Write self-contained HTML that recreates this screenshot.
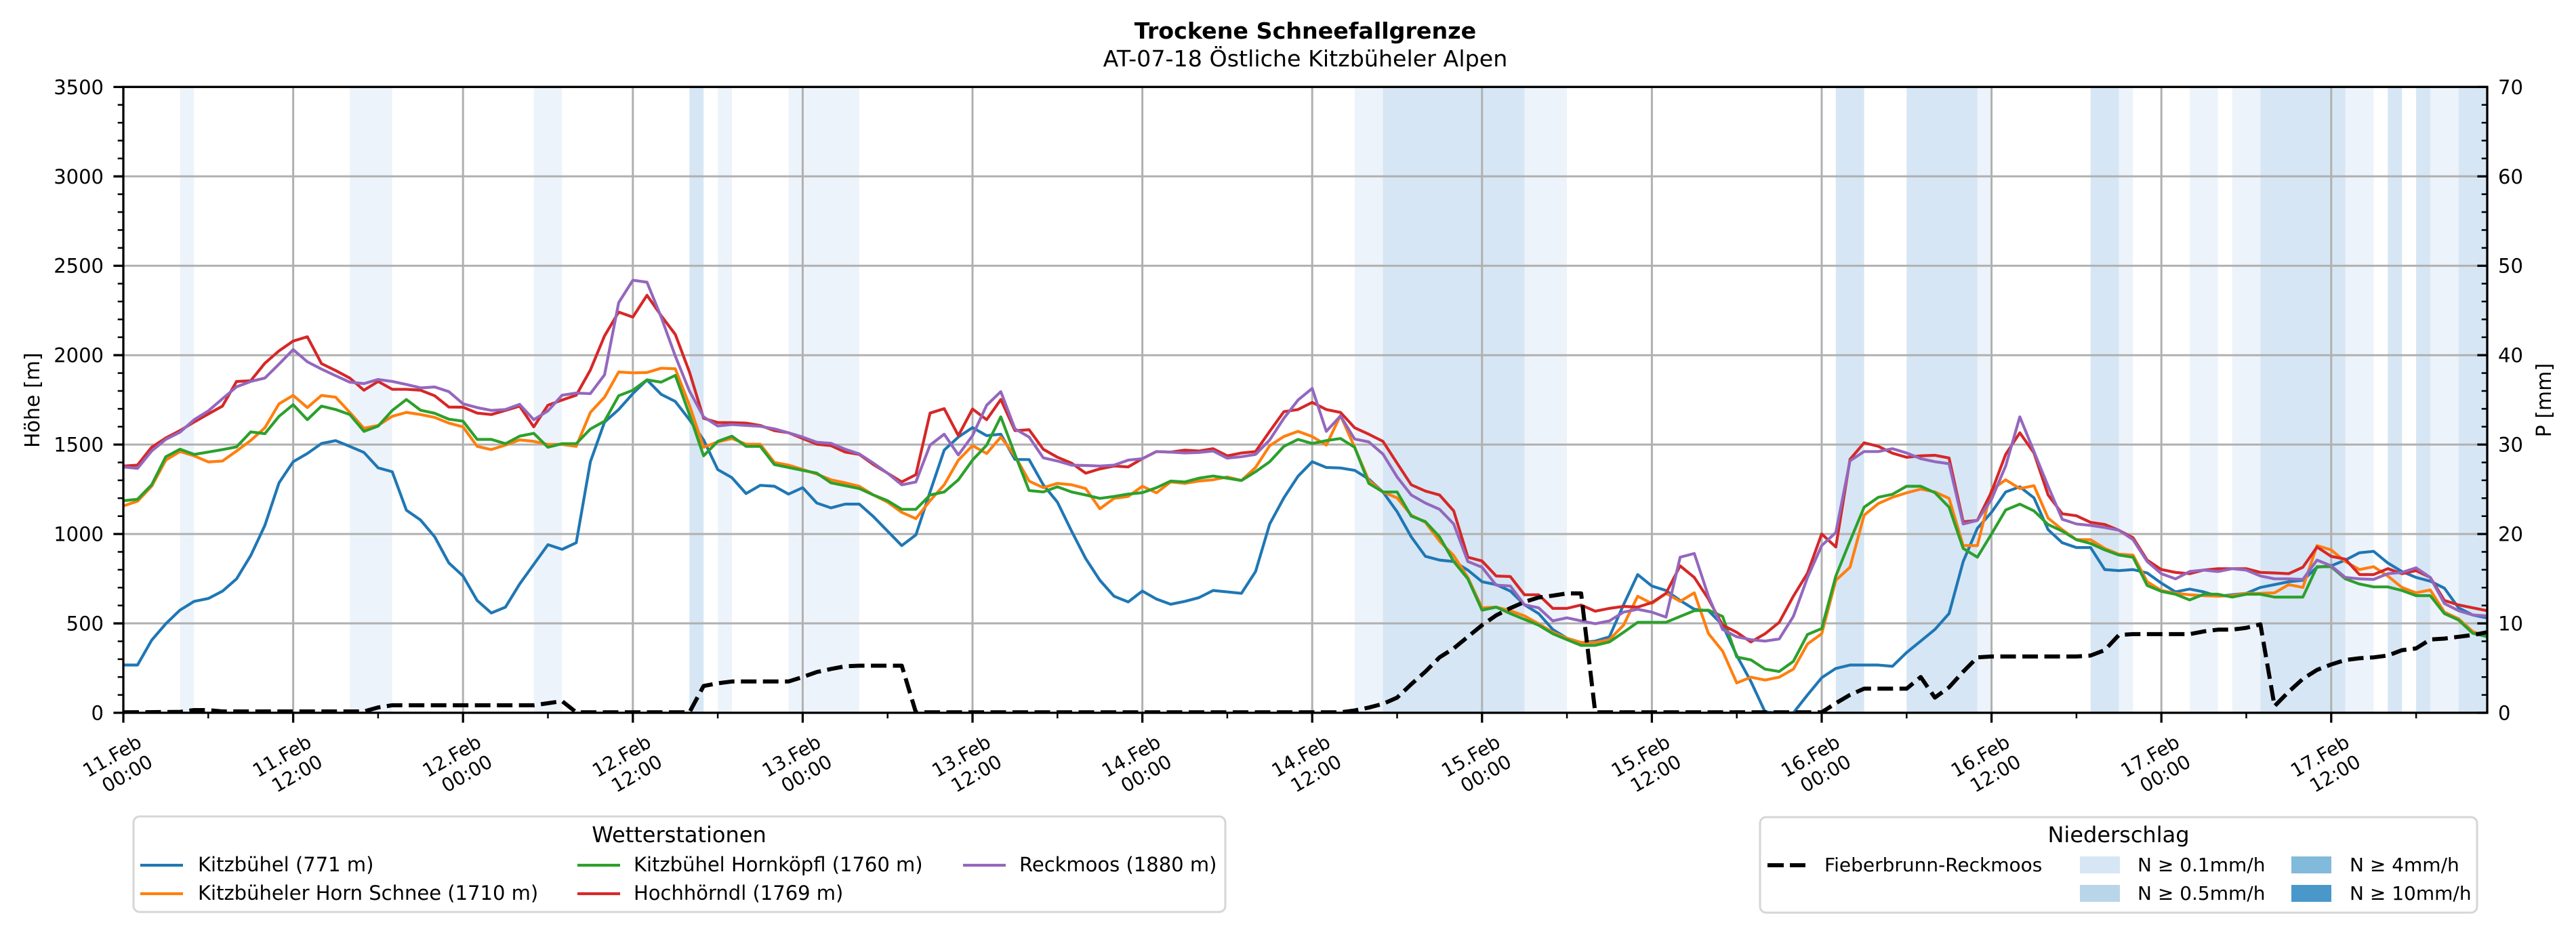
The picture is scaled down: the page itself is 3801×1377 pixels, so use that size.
<!DOCTYPE html>
<html><head><meta charset="utf-8"><style>
html,body{margin:0;padding:0;background:#fff;}
svg{display:block;font-family:"DejaVu Sans","Liberation Sans",sans-serif;}
</style></head><body>
<svg width="3801" height="1377" viewBox="0 0 3801 1377" xmlns="http://www.w3.org/2000/svg">
<defs><clipPath id="ax"><rect x="182" y="128.3" width="3488" height="923.7"/></clipPath></defs>
<rect width="3801" height="1377" fill="#fff"/>
<text x="1926" y="57" font-size="33.3" font-weight="bold" text-anchor="middle">Trockene Schneefallgrenze</text>
<text x="1926" y="98" font-size="33.3" text-anchor="middle">AT-07-18 Östliche Kitzbüheler Alpen</text>
<g transform="matrix(20.883 0 0 1 182 0)">
<g fill="#edf3fa">
<rect x="4" y="128.3" width="1" height="923.7"/><rect x="16" y="128.3" width="3" height="923.7"/><rect x="29" y="128.3" width="2" height="923.7"/><rect x="42" y="128.3" width="1" height="923.7"/><rect x="47" y="128.3" width="5" height="923.7"/><rect x="87" y="128.3" width="2" height="923.7"/><rect x="99" y="128.3" width="3" height="923.7"/><rect x="131" y="128.3" width="1" height="923.7"/><rect x="141" y="128.3" width="1" height="923.7"/><rect x="146" y="128.3" width="2" height="923.7"/><rect x="149" y="128.3" width="2" height="923.7"/><rect x="157" y="128.3" width="2" height="923.7"/><rect x="163" y="128.3" width="2" height="923.7"/>
</g>
<g fill="#d6e6f4">
<rect x="40" y="128.3" width="1" height="923.7"/><rect x="89" y="128.3" width="10" height="923.7"/><rect x="121" y="128.3" width="2" height="923.7"/><rect x="126" y="128.3" width="5" height="923.7"/><rect x="139" y="128.3" width="2" height="923.7"/><rect x="151" y="128.3" width="6" height="923.7"/><rect x="160" y="128.3" width="1" height="923.7"/><rect x="162" y="128.3" width="1" height="923.7"/><rect x="165" y="128.3" width="2" height="923.7"/>
</g>
</g>
<g stroke="#b0b0b0" stroke-width="3" fill="none">
<path d="M182 920.05H3670M182 788.1H3670M182 656.15H3670M182 524.2H3670M182 392.25H3670M182 260.3H3670"/>
<path d="M432.6 128.3V1052M683.2 128.3V1052M933.8 128.3V1052M1184.4 128.3V1052M1435 128.3V1052M1685.6 128.3V1052M1936.2 128.3V1052M2186.8 128.3V1052M2437.4 128.3V1052M2688 128.3V1052M2938.6 128.3V1052M3189.2 128.3V1052M3439.8 128.3V1052"/>
</g>
<g clip-path="url(#ax)">
<g transform="matrix(20.883 0 0 -0.26391 182 1052)" fill="none" stroke-width="4.2" stroke-linejoin="round" stroke-linecap="square">
<polyline vector-effect="non-scaling-stroke" stroke="#1f77b4" points="0,267 1,267 2,406 3,498 4,574 5,623 6,639 7,680 8,749 9,879 10,1048 11,1286 12,1404 13,1450 14,1506 15,1522 16,1490 17,1456 18,1370 19,1348 20,1133 21,1078 22,984 23,838 24,765 25,628 26,558 27,591 28,720 29,830 30,940 31,914 32,951 33,1404 34,1626 35,1696 36,1785 37,1862 38,1781 39,1741 40,1639 41,1526 42,1360 43,1315 44,1226 45,1272 46,1267 47,1223 48,1259 49,1173 50,1146 51,1167 52,1167 53,1097 54,1016 55,935 56,995 57,1235 58,1469 59,1542 60,1595 61,1550 62,1558 63,1417 64,1416 65,1275 66,1178 67,1016 68,862 69,741 70,652 71,620 72,681 73,636 74,607 75,623 76,644 77,684 78,676 79,668 80,790 81,1056 82,1202 83,1323 84,1404 85,1372 86,1369 87,1356 88,1307 89,1235 90,1125 91,984 92,875 93,854 94,846 95,798 96,733 97,717 98,681 99,604 100,555 101,466 102,417 103,393 104,401 105,425 106,604 107,773 108,709 109,684 110,628 111,579 112,571 113,490 114,320 115,175 116,5 117,0 118,0 119,100 120,196 121,248 122,267 123,267 124,267 125,260 126,337 127,401 128,466 129,555 130,846 131,1032 132,1121 133,1235 134,1264 135,1202 136,1024 137,951 138,924 139,924 140,801 141,795 142,801 143,782 144,725 145,676 146,692 147,676 148,652 149,660 150,668 151,701 152,717 153,733 154,741 155,814 156,822 157,854 158,895 159,903 160,838 161,790 162,757 163,736 164,697 165,587 166,547 167,531"/>
<polyline vector-effect="non-scaling-stroke" stroke="#ff7f0e" points="0,1157 1,1183 2,1267 3,1413 4,1461 5,1437 6,1403 7,1408 8,1464 9,1523 10,1594 11,1728 12,1775 13,1707 14,1775 15,1765 16,1680 17,1591 18,1607 19,1658 20,1680 21,1668 22,1652 23,1620 24,1599 25,1490 26,1472 27,1497 28,1526 29,1518 30,1501 31,1501 32,1490 33,1680 34,1765 35,1906 36,1901 37,1903 38,1927 39,1924 40,1720 41,1485 42,1515 43,1534 44,1502 45,1502 46,1400 47,1385 48,1361 49,1335 50,1303 51,1286 52,1267 53,1218 54,1178 55,1121 56,1086 57,1186 58,1275 59,1413 60,1494 61,1450 62,1542 63,1437 64,1296 65,1259 66,1283 67,1275 68,1254 69,1141 70,1199 71,1210 72,1267 73,1230 74,1291 75,1283 76,1296 77,1303 78,1319 79,1299 80,1372 81,1494 82,1545 83,1574 84,1545 85,1497 86,1663 87,1485 88,1299 89,1235 90,1202 91,1105 92,1065 93,960 94,879 95,757 96,587 97,591 98,571 99,542 100,498 101,450 102,417 103,393 104,393 105,409 106,490 107,652 108,611 109,668 110,623 111,671 112,443 113,345 114,167 115,199 116,183 117,199 118,244 119,385 120,442 121,741 122,814 123,1105 124,1170 125,1205 126,1230 127,1251 128,1235 129,1199 130,935 131,935 132,1246 133,1303 134,1254 135,1270 136,1089 137,1024 138,968 139,968 140,919 141,887 142,882 143,733 144,684 145,668 146,660 147,655 148,652 149,655 150,668 151,668 152,671 153,717 154,701 155,935 156,911 157,846 158,801 159,817 160,765 161,701 162,671 163,687 164,563 165,526 166,455 167,426"/>
<polyline vector-effect="non-scaling-stroke" stroke="#2ca02c" points="0,1186 1,1194 2,1275 3,1432 4,1474 5,1445 6,1458 7,1472 8,1487 9,1571 10,1561 11,1658 12,1723 13,1639 14,1715 15,1696 16,1668 17,1574 18,1603 19,1691 20,1752 21,1692 22,1675 23,1642 24,1631 25,1529 26,1529 27,1505 28,1547 29,1563 30,1485 31,1505 32,1505 33,1587 34,1631 35,1773 36,1804 37,1862 38,1849 39,1887 40,1668 41,1437 42,1518 43,1547 44,1490 45,1490 46,1388 47,1372 48,1356 49,1340 50,1286 51,1270 52,1254 53,1218 54,1186 55,1138 56,1138 57,1218 58,1235 59,1303 60,1413 61,1497 62,1655 63,1445 64,1243 65,1235 66,1264 67,1235 68,1218 69,1199 70,1210 71,1223 72,1231 73,1259 74,1296 75,1291 76,1312 77,1324 78,1312 79,1299 80,1348 81,1404 82,1490 83,1529 84,1506 85,1522 86,1534 87,1485 88,1283 89,1235 90,1235 91,1100 92,1069 93,984 94,846 95,749 96,574 97,591 98,555 99,522 100,490 101,442 102,409 103,377 104,377 105,396 106,450 107,506 108,506 109,506 110,539 111,571 112,574 113,539 114,312 115,296 116,244 117,231 118,288 119,438 120,471 121,765 122,960 123,1150 124,1205 125,1222 126,1267 127,1267 128,1231 129,1150 130,919 131,870 132,1000 133,1134 134,1167 135,1129 136,1053 137,1016 138,968 139,947 140,911 141,882 142,870 143,712 144,679 145,663 146,631 147,663 148,663 149,647 150,663 151,663 152,647 153,647 154,647 155,817 156,817 157,749 158,720 159,704 160,704 161,684 162,655 163,655 164,555 165,519 166,445 167,426"/>
<polyline vector-effect="non-scaling-stroke" stroke="#d62728" points="0,1380 1,1385 2,1485 3,1537 4,1578 5,1626 6,1671 7,1715 8,1853 9,1857 10,1955 11,2024 12,2079 13,2103 14,1953 15,1914 16,1872 17,1804 18,1853 19,1809 20,1809 21,1804 22,1773 23,1710 24,1709 25,1676 26,1668 27,1691 28,1715 29,1599 30,1720 31,1749 32,1776 33,1917 34,2108 35,2241 36,2213 37,2335 38,2221 39,2116 40,1906 41,1647 42,1623 43,1623 44,1620 45,1607 46,1578 47,1566 48,1534 49,1502 50,1494 51,1458 52,1445 53,1388 54,1340 55,1291 56,1332 57,1676 58,1701 59,1550 60,1699 61,1639 62,1752 63,1578 64,1583 65,1474 66,1429 67,1396 68,1340 69,1364 70,1380 71,1375 72,1421 73,1461 74,1458 75,1469 76,1464 77,1477 78,1437 79,1453 80,1461 81,1574 82,1684 83,1696 84,1736 85,1696 86,1680 87,1594 88,1558 89,1518 90,1396 91,1275 92,1240 93,1218 94,1129 95,870 96,849 97,765 98,762 99,660 100,660 101,584 102,584 103,603 104,568 105,584 106,595 107,591 108,616 109,668 110,822 111,757 112,636 113,490 114,450 115,396 116,442 117,506 118,652 119,781 120,1000 121,927 122,1417 123,1510 124,1490 125,1452 126,1429 127,1437 128,1440 129,1425 130,1068 131,1076 132,1235 133,1445 134,1566 135,1453 136,1218 137,1113 138,1102 139,1065 140,1053 141,1021 142,979 143,854 144,801 145,785 146,778 147,798 148,806 149,806 150,806 151,785 152,782 153,778 154,814 155,927 156,875 157,859 158,773 159,773 160,806 161,778 162,795 163,757 164,628 165,603 166,587 167,571"/>
<polyline vector-effect="non-scaling-stroke" stroke="#9467bd" points="0,1375 1,1367 2,1464 3,1529 4,1569 5,1639 6,1688 7,1756 8,1823 9,1853 10,1872 11,1950 12,2031 13,1963 14,1922 15,1885 16,1849 17,1841 18,1864 19,1853 20,1836 21,1817 22,1822 23,1796 24,1728 25,1707 26,1691 27,1696 28,1725 29,1639 30,1688 31,1776 32,1788 33,1785 34,1890 35,2294 36,2419 37,2408 38,2213 39,1995 40,1799 41,1655 42,1604 43,1612 44,1607 45,1602 46,1588 47,1566 48,1542 49,1513 50,1507 51,1474 52,1448 53,1396 54,1340 55,1275 56,1291 57,1497 58,1558 59,1442 60,1550 61,1720 62,1796 63,1588 64,1542 65,1426 66,1408 67,1385 68,1383 69,1380 70,1385 71,1413 72,1421 73,1461 74,1458 75,1453 76,1456 77,1464 78,1424 79,1432 80,1445 81,1526 82,1647 83,1749 84,1814 85,1574 86,1660 87,1531 88,1515 89,1447 90,1319 91,1218 92,1173 93,1138 94,1056 95,846 96,814 97,714 98,709 99,604 100,587 101,514 102,531 103,514 104,498 105,514 106,563 107,579 108,563 109,535 110,870 111,891 112,652 113,466 114,425 115,409 116,401 117,413 118,539 119,757 120,935 121,1008 122,1409 123,1461 124,1461 125,1477 126,1453 127,1421 128,1404 129,1393 130,1056 131,1076 132,1194 133,1380 134,1655 135,1461 136,1267 137,1082 138,1056 139,1048 140,1036 141,1021 142,968 143,846 144,778 145,749 146,790 147,798 148,790 149,806 150,798 151,765 152,749 153,749 154,746 155,854 156,822 157,757 158,749 159,746 160,778 161,785 162,811 163,757 164,611 165,571 166,547 167,542"/>
</g>
<polyline fill="none" stroke="#000" stroke-width="6" stroke-dasharray="23 9.5" stroke-linejoin="round" points="182,1051.3 265.5,1050.7 286.4,1048 307.3,1048 328.2,1050 537,1050 557.9,1044.1 578.8,1040.9 787.6,1040.9 808.5,1037.9 829.4,1034.8 850.3,1051.3 1017.3,1051.3 1038.2,1012.4 1059.1,1008.5 1080,1005.8 1163.5,1005.8 1184.4,999.2 1205.3,991.8 1226.2,987.3 1247,983.4 1267.9,982.5 1330.6,982.5 1351.4,1051.3 1977.9,1051.3 1998.8,1048.6 2019.7,1044.3 2040.6,1038.8 2061.5,1029.6 2082.4,1009.8 2103.2,991.3 2124.1,970.2 2145,957 2165.9,939.8 2186.8,922.7 2207.7,908.2 2228.5,897.6 2249.4,888.4 2270.3,881.8 2291.2,879.1 2312.1,875.8 2333,875.8 2353.8,1051.3 2687.9,1051.3 2708.8,1037.9 2729.7,1025.6 2750.6,1016.4 2813.3,1016.4 2834.1,999.2 2855,1029.6 2875.9,1014.4 2896.8,991.3 2917.7,970.2 2938.6,968.9 3063.9,968.9 3084.7,967.5 3105.6,959.6 3126.5,937.2 3147.4,935.9 3230.9,935.9 3251.8,931.9 3272.7,929.3 3293.6,929.3 3314.5,926.6 3335.3,921.4 3356.2,1042.2 3377.1,1020.9 3398,1001.9 3418.9,988.7 3439.7,980.7 3460.6,974.1 3481.5,971.5 3502.4,970.2 3523.3,967.5 3544.2,959.6 3565,957 3585.9,943.8 3606.8,942.5 3627.7,939.8 3648.6,937.2 3669.5,933.2"/>
</g>
<rect x="182" y="128.3" width="3488" height="923.7" fill="none" stroke="#000" stroke-width="3.3"/>
<g stroke="#000" fill="none">
<path stroke-width="3.3" d="M182 1052H167.4M182 920.05H167.4M182 788.1H167.4M182 656.15H167.4M182 524.2H167.4M182 392.25H167.4M182 260.3H167.4M182 128.35H167.4"/>
<path stroke-width="2.5" d="M182 1025.61H173.7M182 999.22H173.7M182 972.83H173.7M182 946.44H173.7M182 893.65H173.7M182 867.26H173.7M182 840.87H173.7M182 814.48H173.7M182 761.7H173.7M182 735.31H173.7M182 708.92H173.7M182 682.53H173.7M182 629.74H173.7M182 603.35H173.7M182 576.96H173.7M182 550.57H173.7M182 497.79H173.7M182 471.4H173.7M182 445.01H173.7M182 418.62H173.7M182 365.83H173.7M182 339.44H173.7M182 313.05H173.7M182 286.66H173.7M182 233.88H173.7M182 207.49H173.7M182 181.1H173.7M182 154.71H173.7"/>
<path stroke-width="3.3" d="M3670 1052H3655.4M3670 920.05H3655.4M3670 788.1H3655.4M3670 656.15H3655.4M3670 524.2H3655.4M3670 392.25H3655.4M3670 260.3H3655.4M3670 128.35H3655.4"/>
<path stroke-width="2.5" d="M3670 1025.61H3661.7M3670 999.22H3661.7M3670 972.83H3661.7M3670 946.44H3661.7M3670 893.65H3661.7M3670 867.26H3661.7M3670 840.87H3661.7M3670 814.48H3661.7M3670 761.7H3661.7M3670 735.31H3661.7M3670 708.92H3661.7M3670 682.53H3661.7M3670 629.74H3661.7M3670 603.35H3661.7M3670 576.96H3661.7M3670 550.57H3661.7M3670 497.79H3661.7M3670 471.4H3661.7M3670 445.01H3661.7M3670 418.62H3661.7M3670 365.83H3661.7M3670 339.44H3661.7M3670 313.05H3661.7M3670 286.66H3661.7M3670 233.88H3661.7M3670 207.49H3661.7M3670 181.1H3661.7M3670 154.71H3661.7"/>
<path stroke-width="3.3" d="M182 1052V1066.6M432.6 1052V1066.6M683.2 1052V1066.6M933.8 1052V1066.6M1184.4 1052V1066.6M1435 1052V1066.6M1685.6 1052V1066.6M1936.2 1052V1066.6M2186.8 1052V1066.6M2437.4 1052V1066.6M2688 1052V1066.6M2938.6 1052V1066.6M3189.2 1052V1066.6M3439.8 1052V1066.6"/>
<path stroke-width="2.5" d="M307.3 1052V1060.3M557.9 1052V1060.3M808.5 1052V1060.3M1059.1 1052V1060.3M1309.7 1052V1060.3M1560.3 1052V1060.3M1810.9 1052V1060.3M2061.5 1052V1060.3M2312.1 1052V1060.3M2562.7 1052V1060.3M2813.3 1052V1060.3M3063.9 1052V1060.3M3314.5 1052V1060.3M3565.1 1052V1060.3"/>
</g>
<g font-size="29" text-anchor="end">
<text x="153" y="1062.5">0</text><text x="153" y="930.5">500</text><text x="153" y="798.6">1000</text><text x="153" y="666.6">1500</text><text x="153" y="534.7">2000</text><text x="153" y="402.7">2500</text><text x="153" y="270.8">3000</text><text x="153" y="138.8">3500</text>
</g>
<g font-size="29" text-anchor="start">
<text x="3686" y="1062.5">0</text><text x="3686" y="930.5">10</text><text x="3686" y="798.6">20</text><text x="3686" y="666.6">30</text><text x="3686" y="534.7">40</text><text x="3686" y="402.7">50</text><text x="3686" y="270.8">60</text><text x="3686" y="138.8">70</text>
</g>
<text font-size="30" text-anchor="middle" transform="translate(58 590.7) rotate(-90)">Höhe [m]</text>
<text font-size="30" text-anchor="middle" transform="translate(3764 590.7) rotate(-90)">P [mm]</text>
<g font-size="28" text-anchor="end">
<text transform="translate(211 1101) rotate(-30)">11.Feb</text><text transform="translate(227.5 1130) rotate(-30)">00:00</text>
<text transform="translate(461.6 1101) rotate(-30)">11.Feb</text><text transform="translate(478.1 1130) rotate(-30)">12:00</text>
<text transform="translate(712.2 1101) rotate(-30)">12.Feb</text><text transform="translate(728.7 1130) rotate(-30)">00:00</text>
<text transform="translate(962.8 1101) rotate(-30)">12.Feb</text><text transform="translate(979.3 1130) rotate(-30)">12:00</text>
<text transform="translate(1213.4 1101) rotate(-30)">13.Feb</text><text transform="translate(1229.9 1130) rotate(-30)">00:00</text>
<text transform="translate(1464 1101) rotate(-30)">13.Feb</text><text transform="translate(1480.5 1130) rotate(-30)">12:00</text>
<text transform="translate(1714.6 1101) rotate(-30)">14.Feb</text><text transform="translate(1731.1 1130) rotate(-30)">00:00</text>
<text transform="translate(1965.2 1101) rotate(-30)">14.Feb</text><text transform="translate(1981.7 1130) rotate(-30)">12:00</text>
<text transform="translate(2215.8 1101) rotate(-30)">15.Feb</text><text transform="translate(2232.3 1130) rotate(-30)">00:00</text>
<text transform="translate(2466.4 1101) rotate(-30)">15.Feb</text><text transform="translate(2482.9 1130) rotate(-30)">12:00</text>
<text transform="translate(2717 1101) rotate(-30)">16.Feb</text><text transform="translate(2733.5 1130) rotate(-30)">00:00</text>
<text transform="translate(2967.6 1101) rotate(-30)">16.Feb</text><text transform="translate(2984.1 1130) rotate(-30)">12:00</text>
<text transform="translate(3218.2 1101) rotate(-30)">17.Feb</text><text transform="translate(3234.7 1130) rotate(-30)">00:00</text>
<text transform="translate(3468.8 1101) rotate(-30)">17.Feb</text><text transform="translate(3485.3 1130) rotate(-30)">12:00</text>
</g>
<!-- Legend 1 -->
<rect x="197" y="1205" width="1611" height="141" rx="9" fill="#fff" stroke="#d6d6d6" stroke-width="3"/>
<text x="1002" y="1243" font-size="32" text-anchor="middle">Wetterstationen</text>
<g stroke-width="4.2" fill="none">
<path stroke="#1f77b4" d="M207 1277H270"/>
<path stroke="#ff7f0e" d="M207 1319H270"/>
<path stroke="#2ca02c" d="M852 1277H915"/>
<path stroke="#d62728" d="M852 1319H915"/>
<path stroke="#9467bd" d="M1421 1277H1484"/>
</g>
<g font-size="29">
<text x="292" y="1286">Kitzbühel (771 m)</text>
<text x="292" y="1328">Kitzbüheler Horn Schnee (1710 m)</text>
<text x="935" y="1286">Kitzbühel Hornköpfl (1760 m)</text>
<text x="935" y="1328">Hochhörndl (1769 m)</text>
<text x="1504" y="1286">Reckmoos (1880 m)</text>
</g>
<!-- Legend 2 -->
<rect x="2597" y="1206" width="1058" height="141" rx="9" fill="#fff" stroke="#d6d6d6" stroke-width="3"/>
<text x="3126" y="1243" font-size="32" text-anchor="middle">Niederschlag</text>
<path d="M2608 1277H2664" stroke="#000" stroke-width="6" stroke-dasharray="24 9" fill="none"/>
<rect x="3069" y="1264" width="59" height="25" fill="#d6e6f4"/>
<rect x="3069" y="1306" width="59" height="25" fill="#b9d5ea"/>
<rect x="3381" y="1264" width="59" height="25" fill="#82badb"/>
<rect x="3381" y="1306" width="59" height="25" fill="#4a98c9"/>
<g font-size="28">
<text x="2692" y="1286">Fieberbrunn-Reckmoos</text>
<text x="3154" y="1286">N ≥ 0.1mm/h</text>
<text x="3154" y="1328">N ≥ 0.5mm/h</text>
<text x="3467" y="1286">N ≥ 4mm/h</text>
<text x="3467" y="1328">N ≥ 10mm/h</text>
</g>
</svg>
</body></html>
